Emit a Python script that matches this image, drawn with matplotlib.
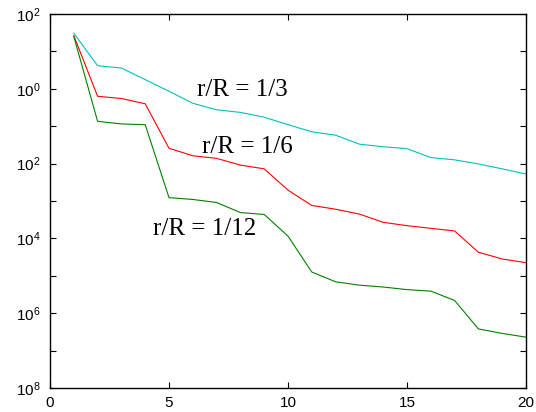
import numpy as np
import matplotlib
matplotlib.use("Agg")
import matplotlib.pyplot as plt

plt.rcParams['font.family'] = 'Liberation Sans'
plt.rcParams['mathtext.fontset'] = 'custom'
plt.rcParams['mathtext.rm'] = 'Liberation Sans'

n = np.arange(1, 21)
# r/R = 1/3
cyan = [30.7, 4.14, 3.59, 1.76, 0.86, 0.41, 0.275, 0.234, 0.174, 0.110,
        0.0708, 0.0575, 0.0331, 0.0282, 0.0251, 0.0145, 0.0126, 0.00977, 0.00724, 0.00525]
# r/R = 1/6
red = [26.3, 0.631, 0.550, 0.398, 0.0257, 0.0162, 0.0138, 0.00912, 0.00724, 0.00195,
       7.59e-4, 6.03e-4, 4.47e-4, 2.69e-4, 2.19e-4, 1.86e-4, 1.58e-4, 4.27e-5, 2.82e-5, 2.24e-5]
# r/R = 1/12
green = [25.1, 0.135, 0.115, 0.110, 1.23e-3, 1.10e-3, 9.12e-4, 4.90e-4, 4.37e-4, 1.15e-4,
         1.26e-5, 6.92e-6, 5.62e-6, 5.01e-6, 4.27e-6, 3.89e-6, 2.19e-6, 3.80e-7, 2.88e-7, 2.29e-7]

labels = ['r/R = 1/3', 'r/R = 1/6', 'r/R = 1/12']
label_pos = [(6.18, 0.93), (6.39, 0.0282), (4.33, 1.82e-4)]

xticks = [0, 5, 10, 15, 20]
yticks = [1e2, 1e0, 1e-2, 1e-4, 1e-6, 1e-8]
yticklabels = ['$\\mathregular{10^{2}}$', '$\\mathregular{10^{0}}$', '$\\mathregular{10^{2}}$',
               '$\\mathregular{10^{4}}$', '$\\mathregular{10^{6}}$', '$\\mathregular{10^{8}}$']

fig = plt.figure(figsize=(5.36, 4.12), dpi=100)
ax = fig.add_axes([50/536, 24/412, 476/536, 374/412])

ax.semilogy(n, cyan, color='#00c0c0', lw=0.8)
ax.semilogy(n, red, color='#ff0000', lw=0.8)
ax.semilogy(n, green, color='#008000', lw=0.8)

for txt, (x, y) in zip(labels, label_pos):
    ax.text(x, y, txt, family='Liberation Serif', fontsize=18, va='center', ha='left')

ax.set_xlim(0, 20)
ax.set_ylim(1e-8, 1e2)
ax.set_xticks(xticks)
ax.set_yticks(yticks)
ax.set_yticklabels(yticklabels)
ax.yaxis.set_minor_locator(matplotlib.ticker.FixedLocator([1e1, 1e-1, 1e-3, 1e-5, 1e-7]))
ax.yaxis.set_minor_formatter(matplotlib.ticker.NullFormatter())
ax.tick_params(which='both', direction='in', top=True, right=True, labelsize=11, width=0.8)
ax.tick_params(which='major', length=4)
ax.tick_params(which='minor', length=4)
ax.tick_params(axis='x', pad=5.5)
ax.tick_params(axis='y', pad=7)
for s in ax.spines.values():
    s.set_linewidth(1.0)

fig.savefig('out.png', dpi=100)
